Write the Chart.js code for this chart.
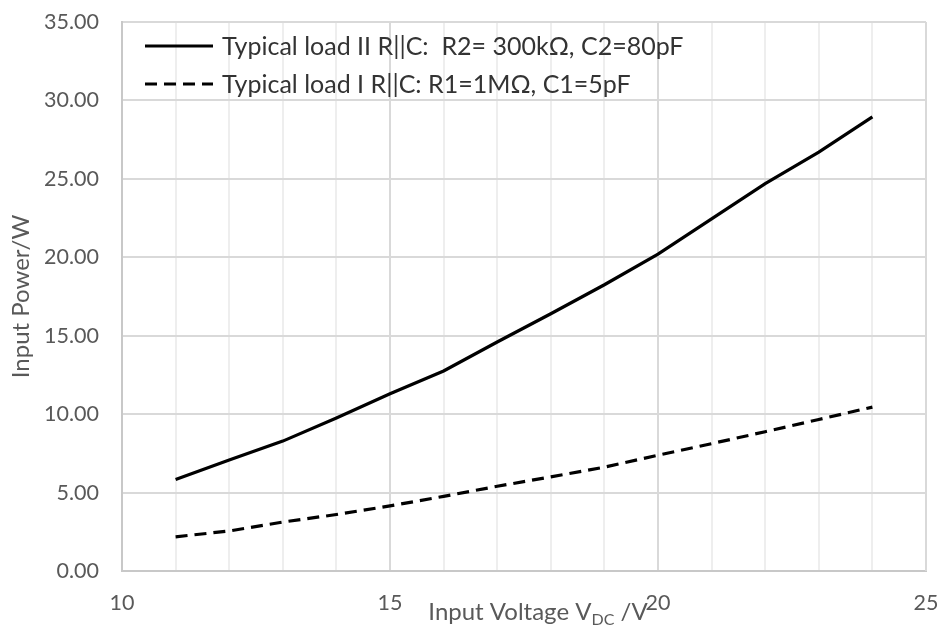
<!DOCTYPE html>
<html>
<head>
<meta charset="utf-8">
<script src="https://cdn.jsdelivr.net/npm/chart.js@4/dist/chart.umd.min.js"></script>
<style>
  html, body { margin: 0; padding: 0; background: #fff; }
  canvas { display: block; }
</style>
</head>
<body>
<canvas id="powerChart" width="939" height="627"></canvas>
<script>
// values
const voltage = [11, 12, 13, 14, 15, 16, 17, 18, 19, 20, 21, 22, 23, 24];
const loadII = [5.84, 7.07, 8.28, 9.75, 11.30, 12.75, 14.60, 16.40, 18.25, 20.20, 22.45, 24.70, 26.70, 28.95];
const loadI = [2.18, 2.55, 3.12, 3.60, 4.15, 4.76, 5.40, 6.00, 6.62, 7.38, 8.12, 8.88, 9.66, 10.45];
const seriesLabels = [
    'Typical load II R||C:  R2= 300k\u03A9, C2=80pF',
    'Typical load I R||C: R1=1M\u03A9, C1=5pF'
];
const xTicks = [10, 15, 20, 25];
const yTicks = [0, 5, 10, 15, 20, 25, 30, 35];

const FONT = 'Lato, Calibri, Carlito, sans-serif';

function points(ys) {
    return voltage.map((v, i) => ({ x: v, y: ys[i] }));
}

// legend drawn inside the plot area, top left
const insideLegend = {
    id: 'insideLegend',
    afterDatasetsDraw(chart) {
        const c = chart.ctx;
        const area = chart.chartArea;
        c.save();
        c.font = '25px ' + FONT;
        c.textBaseline = 'middle';
        chart.data.datasets.forEach((ds, i) => {
            const y = area.top + 24 + i * 38;
            c.strokeStyle = ds.borderColor;
            c.lineWidth = ds.borderWidth;
            c.setLineDash(ds.borderDash || []);
            c.beginPath();
            c.moveTo(area.left + 23, y);
            c.lineTo(area.left + 91, y);
            c.stroke();
            c.setLineDash([]);
            c.fillStyle = '#333333';
            c.fillText(ds.label, area.left + 100, y + 1);
        });
        c.restore();
    }
};

// x title with subscript DC, sits over the tick row like the original
const xTitle = {
    id: 'xTitle',
    afterDraw(chart) {
        const c = chart.ctx;
        const parts = [
            { t: 'Input Voltage V', size: 24, dy: 0 },
            { t: 'DC', size: 16, dy: 5 },
            { t: ' /V', size: 24, dy: 0 }
        ];
        c.save();
        c.fillStyle = '#595959';
        c.textBaseline = 'alphabetic';
        let total = 0;
        parts.forEach(p => { c.font = p.size + 'px ' + FONT; p.w = c.measureText(p.t).width; total += p.w; });
        let x = 538 - total / 2;
        const base = 620;
        parts.forEach(p => {
            c.font = p.size + 'px ' + FONT;
            c.fillText(p.t, x, base + p.dy);
            x += p.w;
        });
        c.restore();
    }
};

const ctx = document.getElementById('powerChart').getContext('2d');

let powerChart = new Chart(ctx, {
    type: 'line',
    data: {
        datasets: [{
            label: seriesLabels[0],
            data: points(loadII),
            borderColor: '#000000',
            borderWidth: 3.2,
            pointRadius: 0,
            tension: 0
        }, {
            label: seriesLabels[1],
            data: points(loadI),
            borderColor: '#000000',
            borderWidth: 3.2,
            borderDash: [12, 7],
            pointRadius: 0,
            tension: 0
        }]
    },
    options: {
        responsive: false,
        animation: false,
        layout: { padding: { top: 22, right: 13, left: 0, bottom: 0 } },
        plugins: {
            legend: { display: false },
            tooltip: { enabled: false }
        },
        scales: {
            x: {
                type: 'linear',
                min: 10,
                max: 25,
                afterFit: s => {
                    s.height = 56;
                    s.paddingLeft = 0;
                    s.paddingRight = 0;
                },
                afterBuildTicks: s => {
                    const t = [];
                    for (let v = 10; v <= 25; v++) t.push({ value: v });
                    s.ticks = t;
                },
                ticks: {
                    autoSkip: false,
                    maxRotation: 0,
                    padding: 19,
                    color: '#595959',
                    font: { family: FONT, size: 21.5 },
                    callback: v => xTicks.includes(v) ? String(v) : ''
                },
                grid: {
                    drawTicks: false,
                    color: c => (c.tick && c.tick.value % 5 === 0) ? '#d9d9d9' : '#eeeeee',
                    lineWidth: 2
                },
                border: { display: true, color: '#c8c8c8', width: 2 }
            },
            y: {
                min: 0,
                max: 35,
                afterFit: s => {
                    s.width = 122;
                    s.paddingTop = 0;
                    s.paddingBottom = 0;
                },
                afterBuildTicks: s => { s.ticks = yTicks.map(v => ({ value: v })); },
                ticks: {
                    padding: 23,
                    color: '#595959',
                    font: { family: FONT, size: 21.5 },
                    callback: v => v.toFixed(2)
                },
                grid: { drawTicks: false, color: '#d9d9d9', lineWidth: 2 },
                border: { display: true, color: '#c8c8c8', width: 2 },
                title: {
                    display: true,
                    text: 'Input Power/W',
                    color: '#595959',
                    font: { family: FONT, size: 24 },
                    padding: { top: 7, bottom: 0 }
                }
            }
        }
    },
    plugins: [insideLegend, xTitle, {
        id: 'rightBorder',
        afterDraw(chart) {
            const a = chart.chartArea;
            const c = chart.ctx;
            c.save();
            c.strokeStyle = '#d9d9d9';
            c.lineWidth = 2;
            c.beginPath();
            c.moveTo(a.right, a.top);
            c.lineTo(a.right, a.bottom);
            c.stroke();
            c.restore();
        }
    }]
});
</script>
</body>
</html>
